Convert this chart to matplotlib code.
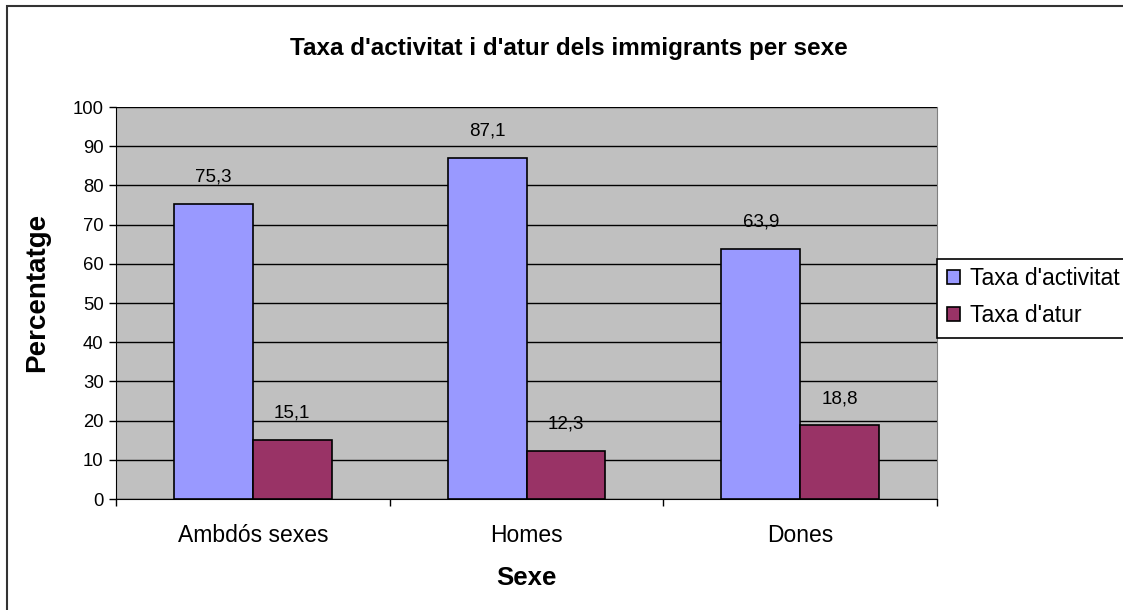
import matplotlib.pyplot as plt
import numpy as np
from matplotlib.patches import Rectangle

categories = ['Ambdós sexes', 'Homes', 'Dones']
activitat = [75.3, 87.1, 63.9]
atur = [15.1, 12.3, 18.8]
series_names = ["Taxa d'activitat", "Taxa d'atur"]

plt.rcParams['font.family'] = ['Liberation Sans', 'DejaVu Sans']

W, H = 1123, 610
fig = plt.figure(figsize=(W / 100, H / 100), dpi=100)
ax = fig.add_axes([116 / W, 1 - 499 / H, (937 - 116) / W, (499 - 107) / H])
ax.set_facecolor('#C0C0C0')

x = np.arange(len(categories))
bw = 0.288
b1 = ax.bar(x - bw / 2, activitat, bw, color='#9999FF', edgecolor='black', linewidth=1.2,
            label=series_names[0], zorder=3)
b2 = ax.bar(x + bw / 2, atur, bw, color='#993366', edgecolor='black', linewidth=1.2,
            label=series_names[1], zorder=3)

for bars in (b1, b2):
    for r in bars:
        v = r.get_height()
        ax.annotate(f'{v:.1f}'.replace('.', ','), (r.get_x() + r.get_width() / 2, v),
                    xytext=(0, 19), textcoords='offset points', ha='center', va='center',
                    fontsize=13.5, zorder=4)

ax.set_xlim(-0.5, 2.5)
ax.set_ylim(0, 100)
ax.set_yticks(np.arange(0, 101, 10))
ax.yaxis.grid(True, color='black', linewidth=1.0, zorder=1)
ax.set_xticks(x)
ax.set_xticklabels(categories, fontsize=16.5)
ax.set_xticks([-0.5, 0.5, 1.5, 2.5], minor=True)
ax.tick_params(axis='x', which='major', length=0, pad=18)
ax.tick_params(axis='x', which='minor', length=5, width=1, direction='out')
ax.tick_params(axis='y', length=5, width=1, direction='out', labelsize=13.3, pad=4)

ax.spines['top'].set_visible(False)
ax.spines['right'].set_color('#808080')
ax.spines['left'].set_color('black')
ax.spines['bottom'].set_color('black')

ax.set_ylabel('Percentatge', fontsize=20, fontweight='bold')
ax.yaxis.set_label_coords(-0.08, 0.527)
ax.set_xlabel('Sexe', fontsize=18.5, fontweight='bold', labelpad=14)
fig.text(569 / W, 1 - 48 / H, "Taxa d'activitat i d'atur dels immigrants per sexe",
         ha='center', va='center', fontsize=17.5, fontweight='bold')

# outer chart frame (right/bottom edges lie outside the image)
fig.patches.append(Rectangle((7 / W, -0.1), 1.2, 1 - 6 / H + 0.1, transform=fig.transFigure,
                             fill=False, edgecolor='#333333', linewidth=1.5))

# legend box
fig.patches.append(Rectangle((937 / W, 1 - 338 / H), 0.3, 79 / H, transform=fig.transFigure,
                             facecolor='white', edgecolor='black', linewidth=1.2, zorder=5))
leg = fig.legend(handles=[b1, b2], loc='center left',
                 bbox_to_anchor=(931 / W, 1 - 297 / H), frameon=False, fontsize=16.6,
                 handlelength=0.55, handleheight=0.55, handletextpad=0.45, labelspacing=0.62,
                 borderpad=0.2)
leg.set_zorder(6)

fig.savefig('out.png', dpi=100)
